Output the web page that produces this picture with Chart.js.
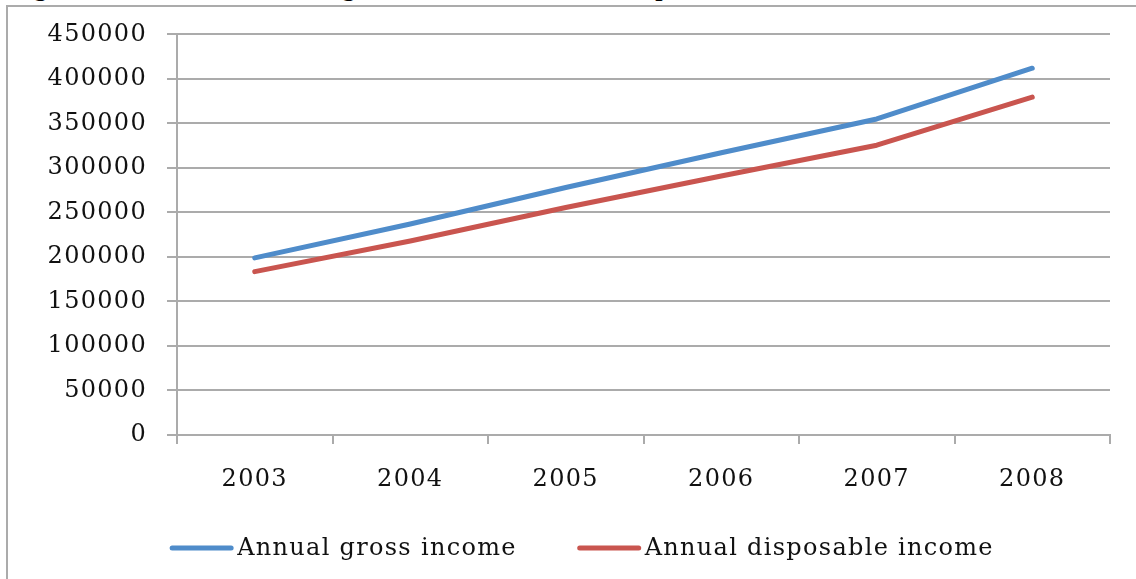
<!DOCTYPE html>
<html>
<head>
<meta charset="utf-8">
<title>Annual gross and disposable income</title>
<script src="https://cdn.jsdelivr.net/npm/chart.js@4.4.1/dist/chart.umd.min.js"></script>
<style>
  html, body { margin: 0; padding: 0; background: #fff; }
  body { width: 1136px; height: 579px; overflow: hidden; position: relative; }
  #caption {
    position: absolute; left: 11px; top: -25px;
    font: bold 26px "Liberation Serif", "Times New Roman", serif;
    line-height: 26px; white-space: nowrap; color: #000;
  }
  #frame {
    position: absolute; left: 6px; top: 5px; width: 1400px; height: 900px;
    border-left: 2px solid #ababab; border-top: 2px solid #ababab;
  }
  #wrap { position: absolute; left: 0; top: 0; width: 1136px; height: 579px; }
</style>
</head>
<body>
<div id="caption">Figure 1.6: Growth in annual gross income and annual disposable income</div>
<div id="frame"></div>
<div id="wrap"><canvas id="chart"></canvas></div>
<script>
// Years on the category axis
const years = ['2003', '2004', '2005', '2006', '2007', '2008'];
// Annual gross income per year
const grossIncome = [199000, 237000, 278000, 317000, 355000, 412000];
// Annual disposable income per year
const disposableIncome = [183500, 218000, 255500, 291000, 325500, 379500];
// Series names shown in the legend
const seriesNames = ['Annual gross income', 'Annual disposable income'];
// Value axis range and tick step
const yMin = 0, yMax = 450000, yStep = 50000;

const FONT_FAMILY = '"DejaVu Serif", "Liberation Serif", serif';
const FONT_SIZE = 24;
const TEXT_COLOR = '#111111';
const GRID_COLOR = '#ababab';
const SPACING = '1.3px';

// Widen glyph spacing for every label the chart paints
const letterSpacing = {
  id: 'letterSpacing',
  beforeDraw(chart) { chart.ctx.letterSpacing = SPACING; }
};

// Legend drawn as a row of line samples under the axis
const lineLegend = {
  id: 'lineLegend',
  afterDraw(chart, args, opts) {
    const ctx = chart.ctx;
    ctx.save();
    ctx.letterSpacing = SPACING;
    ctx.font = FONT_SIZE + 'px ' + FONT_FAMILY;
    const items = chart.data.datasets.map(ds => ({
      label: ds.label, color: ds.borderColor, width: ctx.measureText(ds.label).width
    }));
    const total = items.reduce((s, it) => s + opts.sample + opts.gap + it.width, 0)
      + opts.itemGap * (items.length - 1);
    let x = opts.centerX - total / 2;
    items.forEach(it => {
      ctx.strokeStyle = it.color;
      ctx.lineWidth = 5;
      ctx.lineCap = 'round';
      ctx.beginPath();
      ctx.moveTo(x, opts.y);
      ctx.lineTo(x + opts.sample, opts.y);
      ctx.stroke();
      x += opts.sample + opts.gap;
      ctx.fillStyle = TEXT_COLOR;
      ctx.textAlign = 'left';
      ctx.textBaseline = 'middle';
      ctx.fillText(it.label, x, opts.y + 1);
      x += it.width + opts.itemGap;
    });
    ctx.restore();
  }
};

const series = [
  { label: seriesNames[0], data: grossIncome, borderColor: '#4f8cca' },
  { label: seriesNames[1], data: disposableIncome, borderColor: '#c9554f' }
].map(s => Object.assign(s, {
  borderWidth: 5,
  tension: 0,
  pointRadius: 0,
  pointHoverRadius: 0,
  fill: false,
  borderCapStyle: 'round',
  borderJoinStyle: 'round'
}));

new Chart(document.getElementById('chart'), {
  type: 'line',
  data: { labels: years, datasets: series },
  plugins: [letterSpacing, lineLegend],
  options: {
    responsive: true,
    maintainAspectRatio: false,
    animation: false,
    events: [],
    layout: { padding: { left: 0, right: 26, top: 34, bottom: 0 } },
    font: { family: FONT_FAMILY, size: FONT_SIZE },
    color: TEXT_COLOR,
    plugins: {
      legend: { display: false },
      tooltip: { enabled: false },
      lineLegend: { centerX: 583, y: 548, sample: 59, gap: 6, itemGap: 63 }
    },
    scales: {
      x: {
        type: 'category',
        offset: true,
        afterFit(scale) { scale.height = 144; },
        grid: {
          offset: true,
          drawOnChartArea: false,
          drawTicks: true,
          tickLength: 9,
          color: GRID_COLOR,
          lineWidth: 2
        },
        border: { display: true, color: GRID_COLOR, width: 2 },
        ticks: {
          color: TEXT_COLOR,
          font: { family: FONT_FAMILY, size: FONT_SIZE },
          padding: 21,
          maxRotation: 0,
          autoSkip: false
        }
      },
      y: {
        min: yMin,
        max: yMax,
        afterFit(scale) { scale.width = 177; },
        grid: {
          color: GRID_COLOR,
          lineWidth: 2,
          tickLength: 10,
          drawTicks: true
        },
        border: { display: true, color: GRID_COLOR, width: 2 },
        ticks: {
          stepSize: yStep,
          color: TEXT_COLOR,
          font: { family: FONT_FAMILY, size: FONT_SIZE },
          padding: 20,
          callback: v => String(v)
        }
      }
    }
  }
});
</script>
</body>
</html>
